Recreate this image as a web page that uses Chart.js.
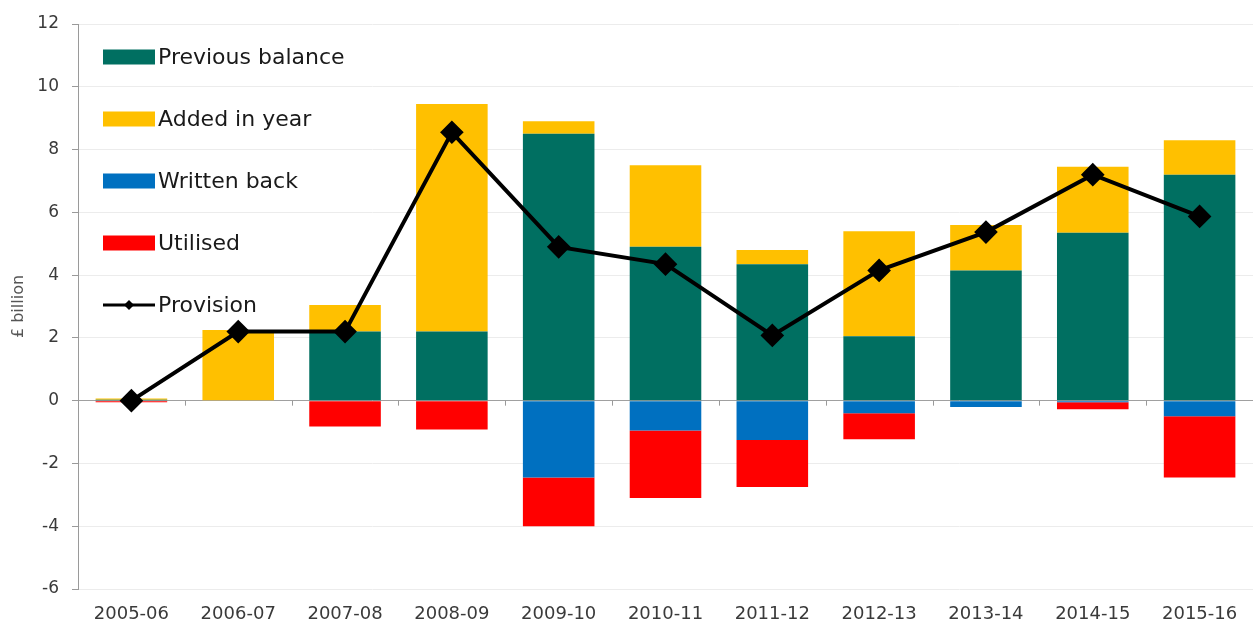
<!DOCTYPE html>
<html>
<head>
<meta charset="utf-8">
<script src="https://cdn.jsdelivr.net/npm/chart.js@4/dist/chart.umd.min.js"></script>
<style>
  html, body { margin: 0; padding: 0; background: #ffffff; }
  #wrap { width: 1253px; height: 625px; position: relative; }
</style>
</head>
<body>
<div id="wrap"><canvas id="c" width="1253" height="625"></canvas></div>
<script>
const categories = ["2005-06","2006-07","2007-08","2008-09","2009-10","2010-11","2011-12","2012-13","2013-14","2014-15","2015-16"];
const previousBalance = [0.03, 0, 2.2, 2.2, 8.5, 4.9, 4.35, 2.05, 4.15, 5.35, 7.2];
const addedInYear     = [0.04, 2.25, 0.85, 7.25, 0.4, 2.6, 0.45, 3.35, 1.45, 2.1, 1.1];
const writtenBack     = [0, 0, 0, 0, -2.45, -0.95, -1.25, -0.4, -0.2, -0.05, -0.5];
const utilised        = [-0.05, 0, -0.82, -0.92, -1.55, -2.15, -1.5, -0.83, 0, -0.22, -1.95];
const provision       = [0.0, 2.2, 2.2, 8.55, 4.9, 4.35, 2.08, 4.15, 5.37, 7.2, 5.87];
const yTicks = [-6, -4, -2, 0, 2, 4, 6, 8, 10, 12];

const FONT = "'DejaVu Sans', 'Open Sans', sans-serif";

const zeroTicks = {
  id: 'zeroTicks',
  afterDatasetsDraw(chart) {
    const ctx = chart.ctx, xs = chart.scales.x, ys = chart.scales.y;
    const y0 = ys.getPixelForValue(0);
    ctx.save();
    ctx.strokeStyle = '#9a9a9a';
    ctx.lineWidth = 1;
    const n = categories.length;
    const w = (xs.right - xs.left) / n;
    for (let i = 1; i < n; i++) {
      const x = Math.round(xs.left + i * w) + 0.5;
      ctx.beginPath(); ctx.moveTo(x, y0); ctx.lineTo(x, y0 + 5); ctx.stroke();
    }
    ctx.restore();
  }
};

const legendPlugin = {
  id: 'insideLegend',
  afterDraw(chart) {
    const ctx = chart.ctx;
    const ds = chart.data.datasets;
    const order = [1, 2, 3, 4, 0];
    const x0 = 103, bw = 52, bh = 15, y0 = 57, gap = 62;
    ctx.save();
    ctx.font = "22px " + FONT;
    ctx.textBaseline = 'middle';
    order.forEach((di, k) => {
      const d = ds[di];
      const cy = y0 + k * gap;
      if (d.type === 'line') {
        ctx.strokeStyle = '#000'; ctx.lineWidth = 3;
        ctx.beginPath(); ctx.moveTo(x0, cy); ctx.lineTo(x0 + bw, cy); ctx.stroke();
        ctx.fillStyle = '#000';
        const cx = x0 + bw / 2, r = 5;
        ctx.beginPath(); ctx.moveTo(cx, cy - r); ctx.lineTo(cx + r, cy); ctx.lineTo(cx, cy + r); ctx.lineTo(cx - r, cy); ctx.closePath(); ctx.fill();
      } else {
        ctx.fillStyle = d.backgroundColor;
        ctx.fillRect(x0, cy - bh / 2, bw, bh);
      }
      ctx.fillStyle = '#1a1a1a';
      ctx.fillText(d.label, x0 + bw + 3, cy + 1);
    });
    ctx.restore();
  }
};

new Chart(document.getElementById('c'), {
  data: {
    labels: categories,
    datasets: [
      { type: 'line', label: 'Provision', data: provision, borderColor: '#000', backgroundColor: '#000',
        borderWidth: 4, pointStyle: 'rectRot', pointRadius: 9, pointBackgroundColor: '#000',
        pointBorderColor: '#000', tension: 0, order: 0, stack: 'line', clip: false },
      { type: 'bar', label: 'Previous balance', data: previousBalance, backgroundColor: '#006F61', stack: 's', order: 1 },
      { type: 'bar', label: 'Added in year', data: addedInYear, backgroundColor: '#FFC000', stack: 's', order: 1 },
      { type: 'bar', label: 'Written back', data: writtenBack, backgroundColor: '#0070C0', stack: 's', order: 1 },
      { type: 'bar', label: 'Utilised', data: utilised, backgroundColor: '#FF0000', stack: 's', order: 1 }
    ]
  },
  options: {
    responsive: false,
    animation: false,
    datasets: { bar: { barPercentage: 0.67, categoryPercentage: 1.0 } },
    layout: { autoPadding: false, padding: { top: 24, right: -4, left: 0, bottom: 0 } },
    plugins: { legend: { display: false }, tooltip: { enabled: false } },
    scales: {
      x: {
        stacked: true,
        grid: { display: false },
        border: { display: false },
        ticks: { color: '#3a3a3a', font: { family: FONT, size: 18 }, padding: 7, maxRotation: 0 },
        afterFit(s) { s.height = 36; s.paddingLeft = 0; s.paddingRight = 0; }
      },
      y: {
        stacked: true,
        min: -6, max: 12,
        afterBuildTicks(s) { s.ticks = yTicks.map(v => ({ value: v })); },
        grid: {
          color: (c) => c.tick && c.tick.value === 0 ? '#a0a0a0' : '#ececec',
          lineWidth: 1,
          tickColor: '#9a9a9a',
          tickLength: 6
        },
        border: { display: true, color: '#9a9a9a' },
        ticks: { color: '#3a3a3a', font: { family: FONT, size: 17 }, padding: 13 },
        title: { display: true, text: '£ billion', color: '#555555', font: { family: FONT, size: 16 }, padding: { top: 9, bottom: 0 } },
        afterFit(s) { s.width = 78; }
      }
    }
  },
  plugins: [zeroTicks, legendPlugin]
});
</script>
</body>
</html>
